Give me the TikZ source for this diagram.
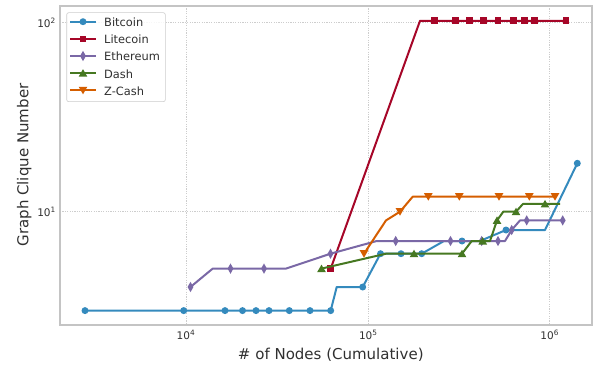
\documentclass[tikz,border=0pt]{standalone}
\usepackage{fontspec}
\setmainfont{DejaVu Sans}
\usetikzlibrary{shapes.geometric}

\definecolor{btcblue}{HTML}{348ABD}
\definecolor{ltcred}{HTML}{A60628}
\definecolor{ethpurple}{HTML}{7A68A6}
\definecolor{dashgreen}{HTML}{467821}
\definecolor{zecorange}{HTML}{D55E00}
\definecolor{gridgray}{HTML}{CDCDCD}
\definecolor{framegray}{HTML}{C4C4C4}
\definecolor{labelgray}{HTML}{303030}

\tikzset{
  series/.style={line width=2pt, line join=round},
  btc/.style={circle, fill=btcblue, minimum size=7pt, inner sep=0pt},
  ltc/.style={rectangle, fill=ltcred, minimum size=6.6pt, inner sep=0pt},
  eth/.style={diamond, fill=ethpurple, minimum width=6pt, minimum height=10.5pt, inner sep=0pt},
  dsh/.style={regular polygon, regular polygon sides=3, fill=dashgreen, minimum size=10pt, inner sep=0pt, yshift=-1pt},
  zec/.style={regular polygon, regular polygon sides=3, shape border rotate=180, fill=zecorange, minimum size=10pt, inner sep=0pt, yshift=1pt},
  gridline/.style={gridgray, line width=0.6pt, dash pattern=on 1.2pt off 1.2pt},
  ticklabel/.style={labelgray, inner sep=0pt, font=\fontsize{10.5}{12}\selectfont},
  axislabel/.style={labelgray, inner sep=0pt, font=\fontsize{15}{18}\selectfont},
  keytext/.style={labelgray, inner sep=0pt, anchor=base west, font=\fontsize{11.4}{13}\selectfont}
}

\begin{document}
\begin{tikzpicture}[x=1pt, y=-1pt]
        \useasboundingbox (0,0) rectangle (593,366);

        \foreach \gx in {186,368.3,549.7}
            \draw[gridline] (\gx,6) -- (\gx,325);
        \foreach \gy in {22.5,211.7}
            \draw[gridline] (60,\gy) -- (592,\gy);
        \draw[framegray, line width=1.2pt] (60,6) rectangle (592,325);

        \node[ticklabel, anchor=north] (x_4) at (186,329.5) {10\textsuperscript{4}};
        \node[ticklabel, anchor=north] (x_5) at (368.3,329.5) {10\textsuperscript{5}};
        \node[ticklabel, anchor=north] (x_6) at (549.7,329.5) {10\textsuperscript{6}};
        \node[ticklabel, anchor=east] (y_1) at (56,211.7) {10\textsuperscript{1}};
        \node[ticklabel, anchor=east] (y_2) at (56,22.5) {10\textsuperscript{2}};

        \node[axislabel, anchor=base] (xlabel) at (330.8,359.3) {\# of Nodes (Cumulative)};
        \node[axislabel, anchor=base, rotate=90] (ylabel) at (28.3,165) {Graph Clique Number};

        \draw[series, btcblue] plot coordinates {(85,310.6) (330.7,310.6) (336.7,287) (362.7,287) (380.5,253.7)
            (421.7,253.7) (444,241) (480,241) (506,230) (545,230) (577.3,163.3)};
        \foreach \px/\py [count=\i] in {85/310.6,183.7/310.6,225/310.6,242.5/310.6,256/310.6,269/310.6,
            289.3/310.6,310/310.6,330.7/310.6,362.7/287,380.5/253.7,401/253.7,421.7/253.7,462/241,506/230,577.3/163.3}
            \node[btc] (btc_\i) at (\px,\py) {};

        \draw[series, ltcred] plot coordinates {(330.7,268.6) (420,20.8) (566,20.8)};
        \node[ltc] (ltc_0) at (330.7,268.6) {};
        \foreach \px [count=\i] in {434.7,455.3,469.7,483.3,498,513.3,524.3,534.3,566}
            \node[ltc] (ltc_\i) at (\px,20.8) {};

        \draw[series, ethpurple] plot coordinates {(190.5,287) (212.7,268.6) (286,268.6) (330.5,253.7) (376.7,241)
            (505,241) (511.7,230) (520,220.4) (562.7,220.4)};
        \foreach \px/\py [count=\i] in {190.5/287,230.5/268.6,264/268.6,330.5/253.7,395.7/241,450.5/241,
            481.7/241,498/241,511.7/230,526.7/220.4,562.7/220.4}
            \node[eth] (eth_\i) at (\px,\py) {};

        \draw[series, dashgreen] plot coordinates {(321.5,268.6) (386,253.7) (462,253.7) (471.7,241) (490,241)
            (497,220.4) (503.3,211.7) (516,211.7) (523,203.9) (560,203.9)};
        \foreach \px/\py [count=\i] in {321.5/268.6,414/253.7,462/253.7,482.7/241,497/220.4,516/211.7,545/203.9}
            \node[dsh] (dsh_\i) at (\px,\py) {};

        \draw[series, zecorange] plot coordinates {(364,253.7) (386,220.4) (400,211.7) (412.7,196.7) (555,196.7)};
        \foreach \px/\py [count=\i] in {364/253.7,400/211.7,428.3/196.7,459.3/196.7,499/196.7,529.3/196.7,555/196.7}
            \node[zec] (zec_\i) at (\px,\py) {};

        \draw[rounded corners=2pt, fill=white, fill opacity=0.85, draw=black!20, line width=0.6pt]
            (66.7,12.7) rectangle (165.3,101.7);
        \foreach \name/\sty/\col [count=\i] in {Bitcoin/btc/btcblue,Litecoin/ltc/ltcred,Ethereum/eth/ethpurple,
            Dash/dsh/dashgreen,Z-Cash/zec/zecorange} {
            \draw[series, \col] (70,{4.55+17.15*\i}) -- (95.7,{4.55+17.15*\i});
            \node[\sty] (key_\i) at (83,{4.55+17.15*\i}) {};
            \node[keytext] (name_\i) at (104,{9.55+17.15*\i}) {\name};
        }
    \end{tikzpicture}
\end{document}
